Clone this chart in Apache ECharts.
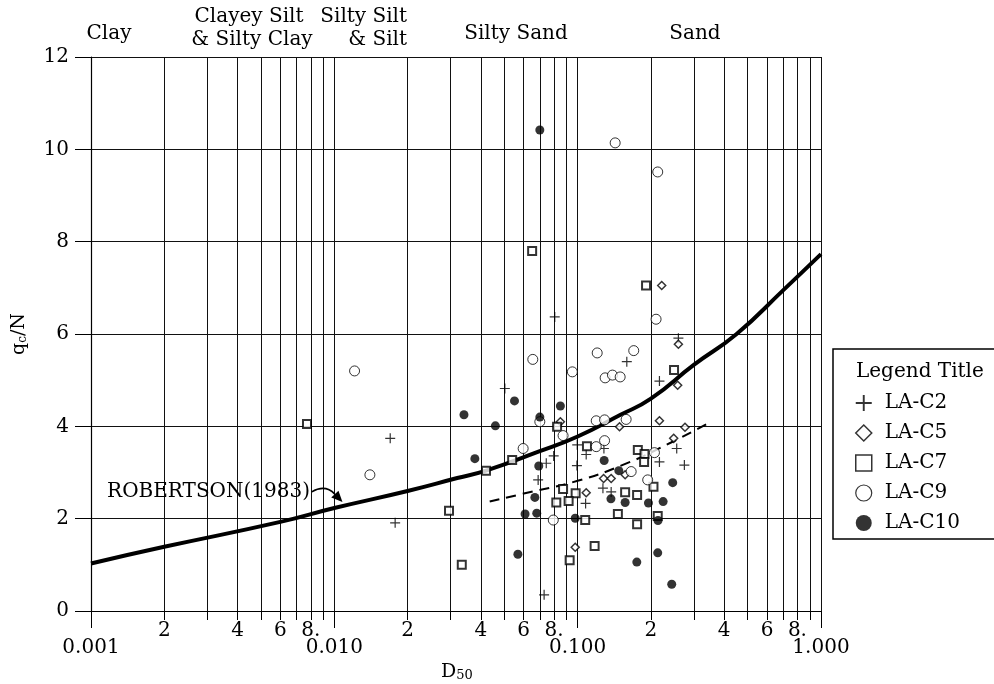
<!DOCTYPE html>
<html lang="en">
<head>
<meta charset="UTF-8">
<title>qc/N vs D50</title>
<script src="https://cdn.jsdelivr.net/npm/echarts@6/dist/echarts.min.js"></script>
<style>html,body{margin:0;padding:0;background:#fff;}</style>
</head>
<body>
<div id="container" style="width:994px;height:684px"></div>
<script type="text/javascript">
var FONT = 'DejaVu Serif';

// axis ticks and labels
var xTickValues = [0.001, 0.002, 0.003, 0.004, 0.005, 0.006, 0.007, 0.008, 0.009,
                   0.01, 0.02, 0.03, 0.04, 0.05, 0.06, 0.07, 0.08, 0.09,
                   0.1, 0.2, 0.3, 0.4, 0.5, 0.6, 0.7, 0.8, 0.9, 1];
var xDigitValues = [0.002, 0.004, 0.006, 0.008, 0.02, 0.04, 0.06, 0.08, 0.2, 0.4, 0.6, 0.8];
var xDigitTexts = ['2', '4', '6', '8.', '2', '4', '6', '8.', '2', '4', '6', '8.'];
var xDecades = [0.001, 0.01, 0.1, 1];
var xDecadeTexts = ['0.001', '0.010', '0.100', '1.000'];

// LA-C2 (+)
var c2D50 = [0.2594, 0.1592, 0.2168, 0.0502, 0.0996, 0.1282, 0.1084, 0.0797, 0.0743, 0.0993, 0.0688,
             0.2168, 0.2553, 0.2745, 0.127, 0.1373, 0.1078, 0.0728, 0.0805, 0.01697, 0.01778];
var c2Q = [5.91, 5.40, 4.98, 4.82, 3.60, 3.52, 3.39, 3.36, 3.20, 3.15, 2.84,
           3.23, 3.52, 3.16, 2.66, 2.58, 2.33, 0.35, 6.37, 3.74, 1.91];

// LA-C5 (diamond)
var c5D50 = [0.2594, 0.2576, 0.2168, 0.1486, 0.2761, 0.2481, 0.0849, 0.1278, 0.1373, 0.1567, 0.1084, 0.0977, 0.2215];
var c5Q = [5.78, 4.89, 4.12, 3.99, 3.98, 3.74, 4.10, 2.87, 2.87, 2.95, 2.56, 1.38, 7.05];

// LA-C7 (square)
var c7D50 = [0.2489, 0.0823, 0.1092, 0.1767, 0.1882, 0.1875, 0.0538, 0.042, 0.0871, 0.0981, 0.0918, 0.0817, 0.1567,
             0.1755, 0.2049, 0.2133, 0.1463, 0.1074, 0.1755, 0.1174, 0.0927, 0.0334, 0.0296, 0.065, 0.191, 0.00772];
var c7Q = [5.22, 3.99, 3.57, 3.49, 3.40, 3.23, 3.27, 3.04, 2.64, 2.55, 2.38, 2.35, 2.57,
           2.51, 2.69, 2.06, 2.10, 1.97, 1.88, 1.41, 1.10, 1.00, 2.17, 7.80, 7.05, 4.05];

// LA-C9 (open circle)
var c9D50 = [0.1203, 0.170, 0.0654, 0.0951, 0.1297, 0.139, 0.1495, 0.1192, 0.129, 0.1582, 0.0699, 0.0871,
             0.129, 0.1192, 0.0597, 0.2068, 0.1659, 0.194, 0.0794, 0.1426, 0.2133, 0.21, 0.01211, 0.014];
var c9Q = [5.59, 5.64, 5.45, 5.18, 5.05, 5.11, 5.07, 4.12, 4.14, 4.15, 4.10, 3.80,
           3.69, 3.56, 3.52, 3.43, 3.02, 2.84, 1.97, 10.14, 9.51, 6.32, 5.20, 2.95];

// LA-C10 (filled circle)
var c10D50 = [0.0341, 0.0459, 0.055, 0.0699, 0.0849, 0.0378, 0.0692, 0.1285, 0.0667, 0.0608, 0.0679, 0.0977,
              0.137, 0.1567, 0.1476, 0.1954, 0.2245, 0.2458, 0.2139, 0.0568, 0.175, 0.2133, 0.2435, 0.0699];
var c10Q = [4.25, 4.01, 4.55, 4.20, 4.44, 3.30, 3.14, 3.26, 2.46, 2.10, 2.12, 2.01,
            2.43, 2.35, 3.04, 2.34, 2.37, 2.78, 1.96, 1.23, 1.06, 1.26, 0.58, 10.42];

// Robertson (1983) curve
var robD50 = [0.001, 0.002, 0.006, 0.01, 0.02, 0.032, 0.042, 0.069, 0.1, 0.15, 0.2, 0.3, 0.45, 0.7, 1.0];
var robQ = [1.03, 1.39, 1.93, 2.23, 2.60, 2.88, 3.04, 3.45, 3.78, 4.25, 4.60, 5.33, 6.00, 6.95, 7.73];

// dashed trend line
var trendD50 = [0.0435, 0.0607, 0.1, 0.156, 0.242, 0.347];
var trendQ = [2.37, 2.55, 2.82, 3.18, 3.65, 4.08];

// label arrow: from end of the text to the curve
var arrowFrom = [0.00807, 2.58];
var arrowTo = [0.0108, 2.36];

function zip(a, b) {
    return a.map(function (v, i) { return [v, b[i]]; });
}

// look a tick value up in a list (log axis may hand over the value or its log)
function lookup(v, values, texts) {
    if (v <= 0) v = Math.pow(10, v);
    for (var i = 0; i < values.length; i++) {
        if (Math.abs(Math.log10(v) - Math.log10(values[i])) < 1e-4) return texts[i];
    }
    return '';
}

var PLUS = 'path://M4.4,0H5.6V4.4H10V5.6H5.6V10H4.4V5.6H0V4.4H4.4Z';

var dom = document.getElementById('container');
var myChart = echarts.init(dom, null, {renderer: 'canvas'});

function txt(id, x, y, s, align) {
    return {type: 'text', id: id, x: x, y: y, z: 100,
            style: {text: s, font: '20px "DejaVu Serif"', fill: '#000',
                    textAlign: align || 'center', textVerticalAlign: 'middle'}};
}

var option = {
    animation: false,
    backgroundColor: '#fff',
    textStyle: {fontFamily: FONT, color: '#000'},
    grid: {left: 91, right: 173, top: 57, bottom: 73, containLabel: false, outerBoundsMode: 'none'},
    xAxis: [{
        type: 'log',
        logBase: 10,
        min: 0.001,
        max: 1,
        axisLine: {show: true, lineStyle: {color: '#000', width: 1.2}},
        axisTick: {show: true, length: 9, inside: false, customValues: xTickValues,
                   lineStyle: {color: '#000', width: 1}},
        splitLine: {show: true, customValues: xTickValues, lineStyle: {color: '#111', width: 1}},
        axisLabel: {
            customValues: xDigitValues,
            hideOverlap: false,
            margin: 11,
            lineHeight: 18,
            fontFamily: FONT, fontSize: 20, color: '#000',
            formatter: function (v) { return lookup(v, xDigitValues, xDigitTexts); }
        }
    }, {
        type: 'log',
        logBase: 10,
        min: 0.001,
        max: 1,
        position: 'bottom',
        axisLine: {show: false},
        axisTick: {show: true, length: 17, customValues: xDecades, lineStyle: {color: '#000', width: 1}},
        axisLabel: {
            customValues: xDecades,
            showMinLabel: true,
            showMaxLabel: true,
            margin: 28,
            lineHeight: 18,
            fontFamily: FONT, fontSize: 20, color: '#000',
            formatter: function (v) { return lookup(v, xDecades, xDecadeTexts); }
        },
        splitLine: {show: false}
    }],
    yAxis: {
        type: 'value',
        min: 0,
        max: 12,
        interval: 2,
        name: '{q|q}{s|c}{q|/N}',
        nameLocation: 'middle',
        nameRotate: 90,
        nameGap: 62,
        nameMoveOverlap: false,
        nameTextStyle: {
            rich: {
                q: {fontFamily: FONT, fontSize: 19, color: '#000'},
                s: {fontFamily: FONT, fontSize: 12, color: '#000', padding: [8, 0, 0, 0]}
            }
        },
        axisLine: {show: true, lineStyle: {color: '#000', width: 1.2}},
        axisTick: {show: true, length: 16, inside: false, lineStyle: {color: '#000'}},
        axisLabel: {margin: 22, fontFamily: FONT, fontSize: 20, color: '#000'},
        splitLine: {show: true, lineStyle: {color: '#111', width: 1}}
    },
    legend: {
        orient: 'vertical',
        left: 833,
        top: 349,
        padding: [44, 60, 6, 22],
        itemWidth: 16,
        itemHeight: 16,
        itemGap: 10,
        borderColor: '#000',
        borderWidth: 1.5,
        backgroundColor: '#fff',
        textStyle: {fontFamily: FONT, fontSize: 20, color: '#000', lineHeight: 20, padding: [0, 0, 0, 8]},
        data: [
            {name: 'LA-C2', icon: PLUS, itemStyle: {color: '#000', borderWidth: 0}},
            {name: 'LA-C5', icon: 'diamond', itemStyle: {color: '#fff', borderColor: '#000', borderWidth: 1.5}},
            {name: 'LA-C7', icon: 'rect', itemStyle: {color: '#fff', borderColor: '#000', borderWidth: 1.5}},
            {name: 'LA-C9', icon: 'circle', itemStyle: {color: '#fff', borderColor: '#000', borderWidth: 1.2}},
            {name: 'LA-C10', icon: 'circle', itemStyle: {color: '#000', borderWidth: 0}}
        ]
    },
    graphic: [
        {type: 'text', id: 'legendTitle', left: 856, top: 362, z: 100,
         style: {text: 'Legend Title', font: '20px "DejaVu Serif"', fill: '#000'}},
        {type: 'text', id: 'xName', x: 457, y: 672, z: 100,
         style: {text: '{d|D}{s|50}', textAlign: 'center', textVerticalAlign: 'middle', fill: '#000',
                 rich: {
                     d: {fontFamily: FONT, fontSize: 19, fill: '#000'},
                     s: {fontFamily: FONT, fontSize: 13, fill: '#000', padding: [8, 0, 0, 0]}
                 }}},
        txt('rob', 310, 492, 'ROBERTSON(1983)', 'right'),
        txt('t1', 109, 34, 'Clay'),
        txt('t2', 249, 17, 'Clayey Silt'),
        txt('t3', 252, 40, '& Silty Clay'),
        txt('t4', 407, 17, 'Silty Silt', 'right'),
        txt('t5', 407, 40, '& Silt', 'right'),
        txt('t6', 516, 34, 'Silty Sand'),
        txt('t7', 695, 34, 'Sand')
    ],
    series: [
        {
            name: 'ROBERTSON(1983)',
            type: 'line',
            smooth: true,
            symbol: 'none',
            silent: true,
            z: 3,
            lineStyle: {color: '#000', width: 4},
            data: zip(robD50, robQ)
        },
        {
            name: 'trend',
            type: 'line',
            smooth: true,
            symbol: 'none',
            silent: true,
            z: 3,
            lineStyle: {color: '#000', width: 2, type: [10, 7]},
            data: zip(trendD50, trendQ)
        },
        {
            name: 'LA-C2', type: 'scatter', symbol: PLUS, symbolSize: 10, z: 5,
            itemStyle: {color: '#000'},
            data: zip(c2D50, c2Q)
        },
        {
            name: 'LA-C5', type: 'scatter', symbol: 'diamond', symbolSize: 8, z: 5,
            itemStyle: {color: '#fff', borderColor: '#000', borderWidth: 1.5},
            data: zip(c5D50, c5Q)
        },
        {
            name: 'LA-C7', type: 'scatter', symbol: 'rect', symbolSize: 8, z: 5,
            itemStyle: {color: '#fff', borderColor: '#000', borderWidth: 2},
            data: zip(c7D50, c7Q)
        },
        {
            name: 'LA-C9', type: 'scatter', symbol: 'circle', symbolSize: 10, z: 5,
            itemStyle: {color: '#fff', borderColor: '#000', borderWidth: 1},
            data: zip(c9D50, c9Q)
        },
        {
            name: 'LA-C10', type: 'scatter', symbol: 'circle', symbolSize: 9, z: 5,
            itemStyle: {color: '#000'},
            data: zip(c10D50, c10Q)
        }
    ]
};

if (option && typeof option === 'object') {
    myChart.setOption(option);
}

// curved arrow for the ROBERTSON(1983) label, placed through the axes
var p0 = myChart.convertToPixel({xAxisIndex: 0, yAxisIndex: 0}, arrowFrom);
var p1 = myChart.convertToPixel({xAxisIndex: 0, yAxisIndex: 0}, arrowTo);
if (p0 && p1) {
    var cx = (p0[0] + p1[0]) / 2 - 2, cy = Math.min(p0[1], p1[1]) - 8;
    var dx = p1[0] - cx, dy = p1[1] - cy, len = Math.sqrt(dx * dx + dy * dy);
    dx /= len; dy /= len;
    var hl = 11, hw = 5;
    var bx = p1[0] - dx * hl, by = p1[1] - dy * hl;
    myChart.setOption({
        graphic: [
            {type: 'bezierCurve', id: 'arrowLine', z: 100,
             shape: {x1: p0[0], y1: p0[1], cpx1: cx, cpy1: cy, x2: bx, y2: by},
             style: {stroke: '#000', lineWidth: 1.6, fill: null}},
            {type: 'polygon', id: 'arrowHead', z: 100,
             shape: {points: [[p1[0], p1[1]], [bx - dy * hw, by + dx * hw], [bx + dy * hw, by - dx * hw]]},
             style: {fill: '#000'}}
        ]
    });
}
window.addEventListener('resize', myChart.resize);
</script>
</body>
</html>
